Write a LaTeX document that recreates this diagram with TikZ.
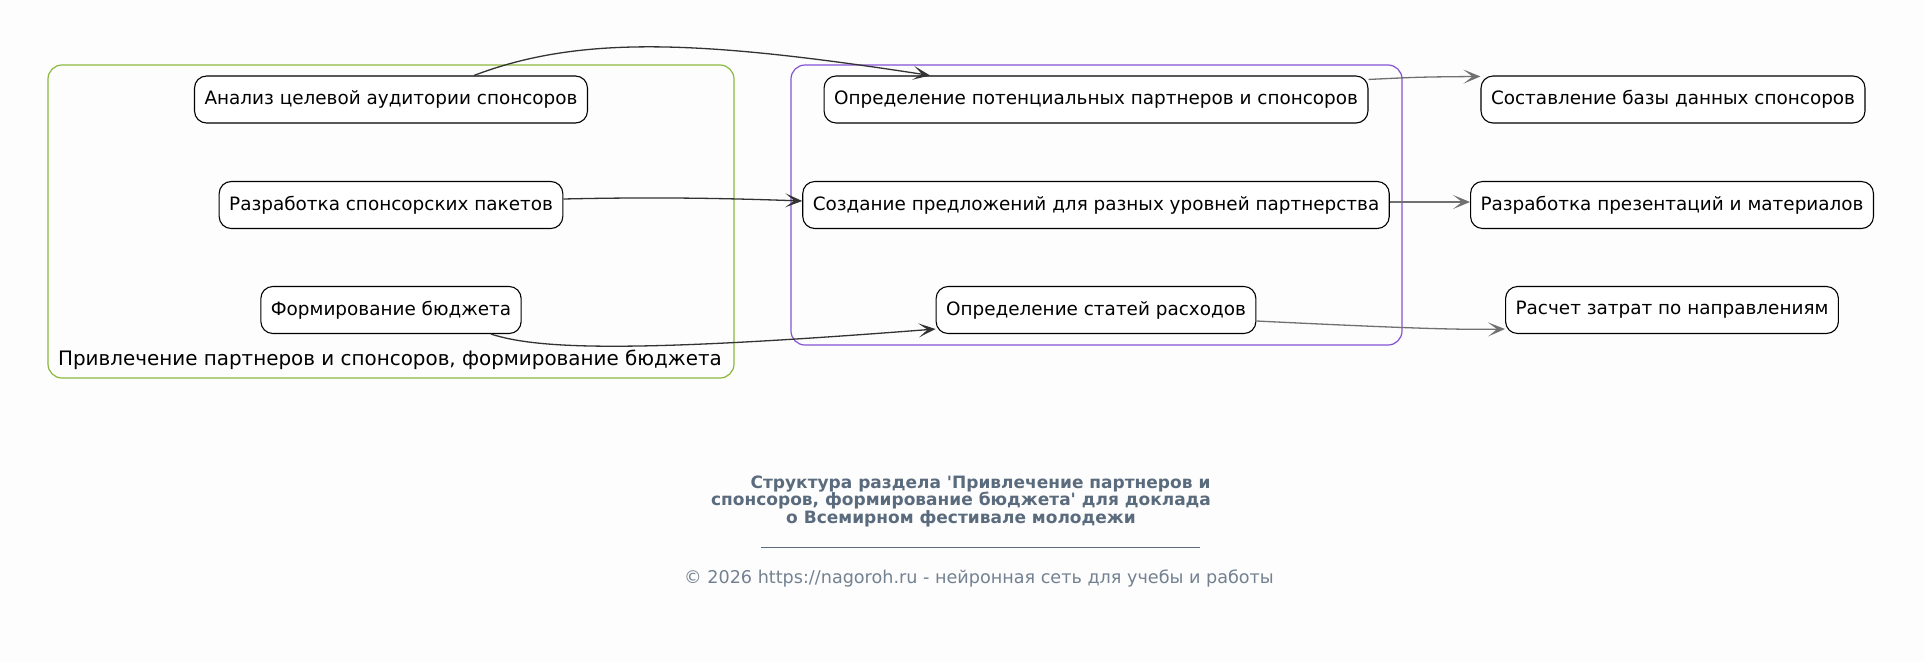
\documentclass[tikz,border=0pt]{standalone}
\usepackage{fontspec}
\setmainfont{DejaVu Sans}
\usepackage{xcolor}
\usetikzlibrary{arrows.meta,calc,positioning}
\definecolor{bgcol}{HTML}{FDFDFD}
\definecolor{groupgreen}{HTML}{8AB83E}
\definecolor{grouppurple}{HTML}{8452D4}
\definecolor{darkline}{HTML}{333333}
\definecolor{grayline}{HTML}{707070}
\definecolor{titlecol}{HTML}{5A6B7D}
\tikzset{%
	task/.style      = {draw, rectangle, rounded corners=12pt, fill=white, line width=1.1pt, minimum height=47pt, inner xsep=10pt, font=\fontsize{18.4}{22}\selectfont, text centered},
	group/.style     = {rounded corners=14pt, line width=1.2pt},
	arrow/.style     = {line width=1.3pt, draw=darkline, -{Stealth[length=17pt,width=14pt,inset=9pt]}},
	grayarrow/.style = {line width=1.3pt, draw=grayline, -{Stealth[length=17pt,width=14pt,inset=9pt]}},
}

\begin{document}
\begin{tikzpicture}[x=1pt,y=-1pt]
	\fill[bgcol] (0,0) rectangle (1924,662);
	\useasboundingbox (0,0) rectangle (1924,662);
	% clusters
	\draw[group,groupgreen] (48,65) rectangle (734,378);
	\draw[group,grouppurple] (791,65) rectangle (1402,345);
	\node[font=\fontsize{19.9}{24}\selectfont] (grplabel) at (390,360) {Привлечение партнеров и спонсоров, формирование бюджета};
	% left column
	\node[task] (analiz) at (391,99.5) {Анализ целевой аудитории спонсоров};
	\node[task] (pakety) at (391,205) {Разработка спонсорских пакетов};
	\node[task] (budget) at (391,310) {Формирование бюджета};
	% middle column
	\node[task] (partners) at (1096,99.5) {Определение потенциальных партнеров и спонсоров};
	\node[task] (offers) at (1096,205) {Создание предложений для разных уровней партнерства};
	\node[task] (costs) at (1096,310) {Определение статей расходов};
	% right column
	\node[task] (database) at (1673,99.5) {Составление базы данных спонсоров};
	\node[task] (present) at (1672,205) {Разработка презентаций и материалов};
	\node[task] (calc) at (1672,310) {Расчет затрат по направлениям};
	% connectors
	\draw[arrow] ([xshift=83pt]analiz.north) .. controls (580,35) and (700,40) .. ([xshift=-166pt]partners.north);
	\draw[arrow] ([yshift=6pt]pakety.east) .. controls (650,197) and (720,198) .. ([yshift=4pt]offers.west);
	\draw[arrow] ([xshift=100pt]budget.south) .. controls (540,350) and (640,352) .. ([yshift=-19pt]costs.west);
	\draw[grayarrow] ([yshift=-4pt]partners.north east) .. controls (1420,77) .. ([yshift=-1pt]database.north west);
	\draw[grayarrow] ([yshift=3pt]offers.east) -- ([yshift=3pt]present.west);
	\draw[grayarrow] ([yshift=-11pt]costs.east) .. controls (1400,328) and (1460,330) .. ([yshift=-19pt]calc.west);
	% caption
	\node[font=\bfseries\fontsize{17}{17.5}\selectfont, text=titlecol, align=center] (title) at (961,501) {\hspace*{39pt}Структура раздела \textquotesingle Привлечение партнеров и\\спонсоров, формирование бюджета\textquotesingle{} для доклада\\о Всемирном фестивале молодежи};
	\draw[titlecol, line width=0.8pt] (761,547) -- (1200,547);
	\node[font=\fontsize{17.6}{20}\selectfont, text=titlecol!85!white] (copy) at (979,578) {© 2026 https://nagoroh.ru - нейронная сеть для учебы и работы};
\end{tikzpicture}
\end{document}
